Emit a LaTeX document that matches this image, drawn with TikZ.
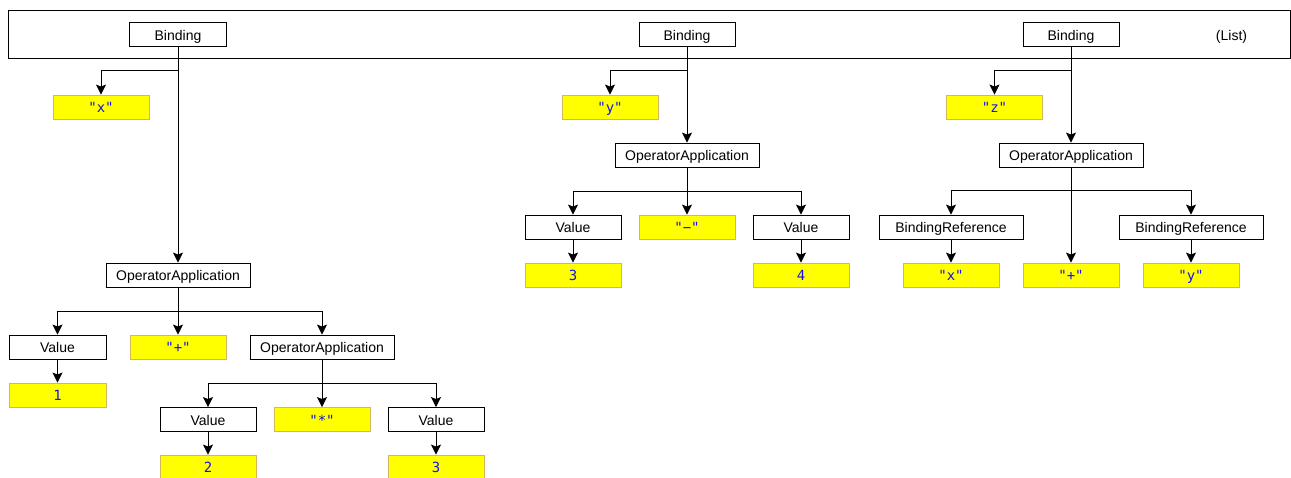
\documentclass[tikz,border=0pt]{standalone}
\usepackage{fontspec}
\setmainfont{Liberation Sans}
\newfontfamily\codefont{DejaVu Sans Mono}
\usetikzlibrary{arrows.meta}
\definecolor{litfill}{RGB}{255,255,0}
\definecolor{litdraw}{RGB}{214,182,86}
\definecolor{littext}{RGB}{20,20,230}
\tikzset{
  astnode/.style={draw=black, fill=white, line width=0.9pt, minimum height=24pt,
    inner sep=0pt, text height=11.5pt, text depth=0pt, font=\fontsize{14}{16}\selectfont},
  litnode/.style={draw=litdraw, fill=litfill, line width=0.9pt, minimum width=96pt,
    minimum height=24pt, inner sep=0pt, text height=11.5pt, text depth=0pt,
    text=littext, font=\codefont\fontsize{14}{16}\selectfont},
  arr/.style={draw=black, line width=0.9pt, -{Stealth[length=10pt,width=10pt,inset=2pt]}},
}
\begin{document}
\begin{tikzpicture}[x=1pt,y=-1pt]
\useasboundingbox (0,0) rectangle (1291,477);
\fill[white] (0,0) rectangle (1291,477);

% list container
\node[draw=black, line width=0.9pt, minimum width=1282pt, minimum height=48pt, inner sep=0pt] (list) at (649,34.5) {};
\node[font=\fontsize{14}{16}\selectfont, text height=11.5pt, text depth=0pt, inner sep=0pt] (listlbl) at (1231.5,35) {(List)};

% ---- first binding: x = 1 + 2 * 3
\node[astnode, minimum width=97pt] (b1) at (178,34.5) {Binding};
\node[litnode] (x1) at (101,107) {"x"};
\node[astnode, minimum width=144pt] (op1) at (178,275) {OperatorApplication};
\node[astnode, minimum width=97pt] (v1) at (57.5,347) {Value};
\node[litnode] (plus1) at (178,347) {"+"};
\node[astnode, minimum width=144pt] (op2) at (322,347) {OperatorApplication};
\node[litnode, minimum width=97pt] (n1) at (57.5,395) {1};
\node[astnode, minimum width=96pt] (v2) at (208,419.5) {Value};
\node[litnode] (times) at (322,419.5) {"*"};
\node[astnode, minimum width=96pt] (v3) at (436,419.5) {Value};
\node[litnode] (n2) at (208,467) {2};
\node[litnode] (n3) at (436,467) {3};

\draw[arr] (b1.south) -- ++(0,23) -| (x1.north);
\draw[arr] (b1.south) -- (op1.north);
\draw[arr] (op1.south) -- ++(0,24) -| (v1.north);
\draw[arr] (op1.south) -- (plus1.north);
\draw[arr] (op1.south) -- ++(0,24) -| (op2.north);
\draw[arr] (v1.south) -- (n1.north);
\draw[arr] (op2.south) -- ++(0,24) -| (v2.north);
\draw[arr] (op2.south) -- (times.north);
\draw[arr] (op2.south) -- ++(0,24) -| (v3.north);
\draw[arr] (v2.south) -- (n2.north);
\draw[arr] (v3.south) -- (n3.north);

% ---- second binding: y = 3 - 4
\node[astnode, minimum width=96pt] (b2) at (687,34.5) {Binding};
\node[litnode] (y2) at (610,107) {"y"};
\node[astnode, minimum width=144pt] (op3) at (687,155) {OperatorApplication};
\node[astnode, minimum width=96pt] (v4) at (573,227) {Value};
\node[litnode] (minus) at (687,227) {"−"};
\node[astnode, minimum width=96pt] (v5) at (801,227) {Value};
\node[litnode] (n4) at (573,275) {3};
\node[litnode] (n5) at (801,275) {4};

\draw[arr] (b2.south) -- ++(0,23) -| (y2.north);
\draw[arr] (b2.south) -- (op3.north);
\draw[arr] (op3.south) -- ++(0,24) -| (v4.north);
\draw[arr] (op3.south) -- (minus.north);
\draw[arr] (op3.south) -- ++(0,24) -| (v5.north);
\draw[arr] (v4.south) -- (n4.north);
\draw[arr] (v5.south) -- (n5.north);

% ---- third binding: z = x + y
\node[astnode, minimum width=96pt] (b3) at (1071,34.5) {Binding};
\node[litnode] (z3) at (994.5,107) {"z"};
\node[astnode, minimum width=144pt] (op4) at (1071,155) {OperatorApplication};
\node[astnode, minimum width=144pt] (r1) at (951,227) {BindingReference};
\node[litnode] (plus2) at (1071,275) {"+"};
\node[astnode, minimum width=144pt] (r2) at (1191,227) {BindingReference};
\node[litnode] (rx) at (951,275) {"x"};
\node[litnode] (ry) at (1191,275) {"y"};

\draw[arr] (b3.south) -- ++(0,23) -| (z3.north);
\draw[arr] (b3.south) -- (op4.north);
\draw[arr] (op4.south) -- ++(0,23) -| (r1.north);
\draw[arr] (op4.south) -- (plus2.north);
\draw[arr] (op4.south) -- ++(0,23) -| (r2.north);
\draw[arr] (r1.south) -- (rx.north);
\draw[arr] (r2.south) -- (ry.north);
\end{tikzpicture}
\end{document}
